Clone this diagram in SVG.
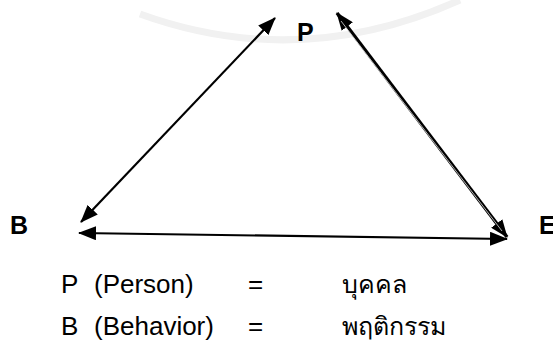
<svg xmlns="http://www.w3.org/2000/svg" width="553" height="351" viewBox="0 0 553 351">
<style>
.lbl{font-family:"Liberation Sans",Arial,sans-serif;font-weight:bold;font-size:25px;fill:#000}
.txt{font-family:"Liberation Sans","Noto Sans",Arial,sans-serif;font-size:26px;fill:#000}
.th{font-family:"Noto Sans","Liberation Sans",sans-serif;font-size:25px;fill:#000}
.ln{stroke:#000;stroke-width:2.2;fill:none}
</style>
<defs>
<marker id="ah" viewBox="0 0 18 14" refX="17" refY="7" markerWidth="18" markerHeight="14" markerUnits="userSpaceOnUse" orient="auto-start-reverse">
<path d="M0,0 L18,7 L0,14 Z" fill="#000"/>
</marker>
</defs>
<rect width="553" height="351" fill="#fff"/>
<path d="M140,14 Q300,72 460,0" stroke="#f1f1f1" stroke-width="7" fill="none"/>
<g id="connectors">
<line class="ln" x1="275" y1="18" x2="81" y2="222" marker-start="url(#ah)" marker-end="url(#ah)"/>
<line x1="337" y1="13" x2="507" y2="237" stroke="#000" stroke-width="3.5" marker-start="url(#ah)" marker-end="url(#ah)"/>
<line x1="341" y1="21" x2="502" y2="231" stroke="#fff" stroke-width="0.7"/>
<line class="ln" x1="79" y1="233" x2="507" y2="239" marker-start="url(#ah)" marker-end="url(#ah)"/>
</g>
<g id="node-P"><text class="lbl" x="297" y="41">P</text></g>
<g id="node-B"><text class="lbl" x="10" y="234">B</text></g>
<g id="node-E"><text class="lbl" x="539" y="234">E</text></g>
<g id="legend">
<text class="txt" x="61" y="293">P</text>
<text class="txt" x="94" y="293">(Person)</text>
<text class="txt" x="248" y="293">=</text>
<text class="th" x="342" y="293">บุคคล</text>
<text class="txt" x="61" y="335">B</text>
<text class="txt" x="94" y="335">(Behavior)</text>
<text class="txt" x="248" y="335">=</text>
<text class="th" x="342" y="335">พฤติกรรม</text>
</g>
</svg>
